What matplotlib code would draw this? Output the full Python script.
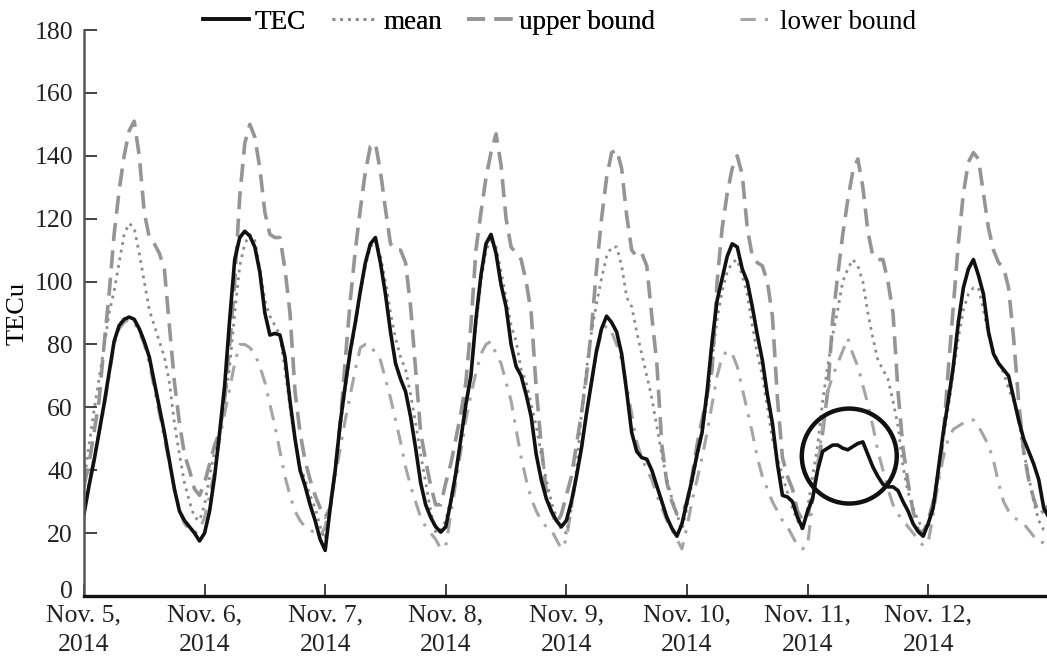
import numpy as np
import matplotlib
matplotlib.use("Agg")
import matplotlib.pyplot as plt
import matplotlib.transforms as mtransforms
from matplotlib.patches import Ellipse

# hourly values, Nov 5 00:00 .. Nov 13 00:00 (193 points)
tec = [26, 35, 43, 52, 61, 71, 81, 86, 88, 88.7, 88, 85, 81, 76, 68, 60, 52, 43, 34, 27, 24, 22, 20, 17.5,
       20, 27, 38, 52, 67, 88, 107, 114, 116, 114.5, 111, 103, 90, 83, 83.5, 83, 76, 62, 50, 40, 35, 29, 24, 18,
       14.5, 28, 40, 55, 67, 78, 87, 97, 106, 112, 114, 106, 96, 84, 74, 69, 65, 57, 47, 36, 29, 25, 22, 20.3,
       22, 30, 39, 50, 61, 70, 88, 102, 112, 115, 109, 99, 92, 80, 73, 70, 64, 57, 45, 37, 31, 27, 24, 22,
       24, 30, 38, 47, 58, 68, 78, 85, 89, 87, 84, 77, 65, 52, 46, 44, 43.5, 40, 35, 30, 25, 21.5, 19, 23,
       30, 37, 45, 52, 65, 81, 94, 101, 108, 112, 111, 104, 100, 92, 83, 75, 64, 55, 42, 32, 31.5, 30, 25, 21.5,
       27, 31, 40, 46, 47, 48, 48, 47, 46.5, 47.5, 48.5, 49, 45, 41, 38, 35.5, 34.7, 34.7, 33.5, 30, 27, 23, 20.5, 19,
       23, 28, 40, 52, 62, 73, 87, 98, 104, 107, 102, 96, 84, 77, 74, 72, 70, 63, 56, 50, 46, 42, 37, 28,
       25]
mean = [36, 48, 59, 69, 79, 90, 97, 106, 115, 118.5, 117, 109, 100, 91, 86, 81, 76, 68, 55, 45, 36, 30, 25, 24,
        29, 38, 46, 52, 62, 73, 90, 105, 112, 115, 113, 104, 94, 89, 86, 83, 72, 60, 49, 41, 37, 32, 28, 22,
        18, 28, 40, 54, 66, 77, 86, 96, 105, 111, 113, 108, 100, 90, 82, 76, 72, 64, 55, 45, 36, 27, 20, 21,
        24, 31, 40, 50, 60, 70, 86, 100, 110, 113, 111, 103, 95, 86, 81, 72, 68, 61, 54, 45, 37, 30, 25, 21,
        20, 28, 40, 58, 72, 84, 93, 101, 108, 111, 111, 105, 95, 92, 84, 77, 70, 63, 54, 45, 37, 31, 26, 21,
        28, 36, 44, 52, 62, 75, 88, 97, 103, 106, 107, 102, 96, 86, 77, 70, 60, 50, 44, 38, 33, 28, 24, 21,
        28, 38, 48, 62, 73, 83, 91, 100, 104, 107, 105, 100, 90, 82, 75, 72, 69, 62, 54, 41, 33, 28, 24, 21,
        22, 30, 40, 50, 60, 71, 82, 91, 96, 98, 98, 91, 83, 78, 74, 71, 66, 62, 56, 46, 38, 30, 24, 21,
        20]
upper = [35, 42, 52, 62, 80, 96, 115, 129, 140, 148, 151, 140, 122, 114, 112, 109, 104, 86, 68, 55, 45, 40, 34, 32,
         36, 42, 48, 52, 63, 80, 100, 127, 144, 150, 146, 136, 122, 115, 114, 114, 104, 90, 65, 52, 43, 37, 32, 28,
         25, 28, 40, 55, 75, 94, 110, 123, 135, 143, 144, 135, 123, 112, 110, 110, 106, 92, 72, 52, 43, 35, 29, 29,
         36, 42, 50, 58, 68, 86, 110, 122, 133, 141, 147, 137, 120, 111, 109, 107, 100, 90, 66, 48, 33, 27, 23, 26,
         32, 38, 48, 58, 70, 85, 104, 120, 133, 141, 142, 136, 121, 110, 108, 109, 105, 89, 74, 48, 36, 30, 26, 26,
         30, 38, 48, 56, 64, 72, 100, 117, 128, 136, 140, 134, 117, 108, 106, 105, 100, 89, 63, 44, 38, 34, 27, 24,
         25, 33, 40, 52, 65, 88, 102, 115, 126, 135, 139, 130, 116, 108, 107, 107, 100, 90, 65, 47, 36, 27, 21, 20,
         24, 30, 38, 50, 72, 92, 112, 128, 138, 141, 139, 128, 117, 110, 106, 104.5, 98, 82, 62, 46, 37, 31, 26, 27,
         29]
lower = [27, 36, 44, 52, 60, 70, 80, 85, 87, 88, 87, 84, 80, 74, 66, 58, 50, 42, 34, 27, 23, 21, 20, 21,
         25, 32, 40, 50, 58, 66, 74, 80, 80, 79, 77, 73, 68, 61, 54, 46, 38, 32, 27, 24, 22, 21, 20, 19,
         22, 30, 38, 47, 56, 64, 72, 79, 80, 80, 77, 75, 69, 63, 56, 49, 41, 35, 30, 25, 22, 20, 18, 15,
         16, 26, 36, 46, 56, 64, 71, 77, 80, 81, 77, 74, 68, 62, 53, 44, 37, 31, 27, 24, 22, 21, 18, 15,
         18, 28, 38, 47, 58, 68, 77, 84, 86, 84, 80, 75, 67, 58, 49, 44, 40, 37, 32, 28, 24, 21, 18, 15,
         22, 30, 37, 44, 52, 61, 70, 76, 78, 77, 73, 66, 59, 52, 44, 38, 34, 30, 27, 24, 22, 19, 16, 15,
         16, 30, 42, 54, 65, 70, 74, 78, 82, 77, 73, 67, 61, 54, 46, 40, 34, 29, 26, 24, 22, 20, 18, 16,
         17, 26, 36, 44, 50, 53, 54, 55, 56, 56, 54, 51, 48, 43, 36, 30, 27, 25, 24, 23, 21, 19, 17, 17,
         16]
hours = np.arange(len(tec))

day_labels = ["Nov. 5,\n2014", "Nov. 6,\n2014", "Nov. 7,\n2014", "Nov. 8,\n2014",
              "Nov. 9,\n2014", "Nov. 10,\n2014", "Nov. 11,\n2014", "Nov. 12,\n2014"]
y_ticks = [0, 20, 40, 60, 80, 100, 120, 140, 160, 180]

# circled anomaly on Nov 11 (hour, TECu, half-width in hours, half-height in TECu)
circle_at = (152.3, 44.5, 9.45, 15.1)

plt.rcParams['font.family'] = ['Liberation Serif', 'DejaVu Serif']

fig = plt.figure(figsize=(10.47, 6.6), dpi=100)
ax = fig.add_axes([0.0802, 0.097, 0.9215, 0.8575])

ax.plot(hours, upper, color='#959595', lw=2.6, ls=(0, (5, 2.6)), label='upper bound')
ax.plot(hours, lower, color='#a5a5a5', lw=2.2, ls=(0, (5, 3, 1, 3)), label='lower bound')
ax.plot(hours, mean, color='#8c8c8c', lw=2.0, ls=(0, (1, 1.8)), label='mean')
ax.plot(hours, tec, color='#111111', lw=2.6, label='TEC')

cx, cy, rx, ry = circle_at
ax.add_patch(Ellipse((cx, cy), 2 * rx, 2 * ry, fill=False, ec='#111111', lw=3.2, zorder=5))

ax.set_xlim(0, 192)
ax.set_ylim(0, 180)
ax.set_xticks(np.arange(0, 192, 24))
ax.set_xticklabels(day_labels, linespacing=1.45)
ax.set_yticks(y_ticks)
ax.tick_params(axis='both', direction='in', length=9, width=1.2, labelsize=18.5, colors='#222222')
ax.tick_params(axis='x', pad=6)
ax.tick_params(axis='y', pad=8)
ax.set_ylabel('TECu', fontsize=19, labelpad=4)

# lift the "0" a little so it clears the first date label
zero_lbl = ax.get_yticklabels()[0]
zero_lbl.set_transform(zero_lbl.get_transform() +
                       mtransforms.ScaledTranslation(0, 6 / 100, fig.dpi_scale_trans))

ax.spines['top'].set_visible(False)
ax.spines['right'].set_visible(False)
ax.spines['left'].set_color('#555555')
ax.spines['left'].set_linewidth(1.8)
ax.spines['bottom'].set_color('#111111')
ax.spines['bottom'].set_linewidth(2.4)

h = {l.get_label(): l for l in ax.get_lines()}
leg1 = fig.legend([h['TEC'], h['mean'], h['upper bound']], ['TEC', 'mean', 'upper bound'],
                  loc='center left', bbox_to_anchor=(0.194, 0.966), ncol=3, frameon=False,
                  fontsize=19.5, handlelength=1.7, handletextpad=0.2, columnspacing=0.95,
                  borderpad=0, borderaxespad=0)
fig.legend([h['lower bound']], ['lower bound'], loc='center left', bbox_to_anchor=(0.707, 0.966),
           frameon=False, fontsize=19.5, handlelength=1.1, handletextpad=0.37,
           borderpad=0, borderaxespad=0)
fig.add_artist(leg1)

fig.savefig('out.png', dpi=100)
